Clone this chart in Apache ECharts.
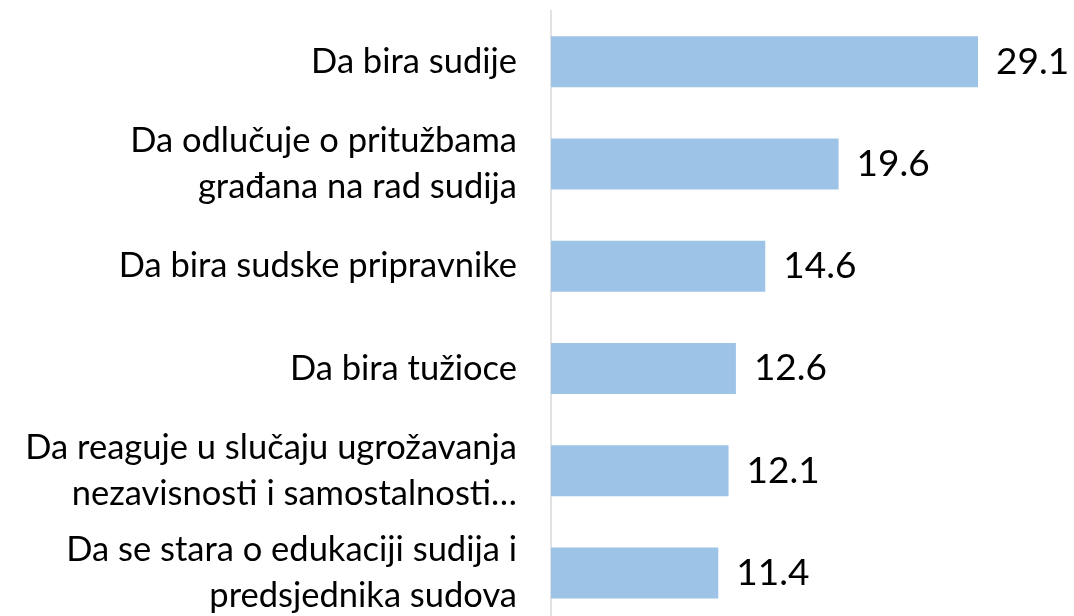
<!DOCTYPE html>
<html>
<head>
<meta charset="utf-8">
<script src="https://cdn.jsdelivr.net/npm/echarts@6/dist/echarts.min.js"></script>
<style>html,body{margin:0;padding:0;background:#fff}#c{width:1074px;height:616px}</style>
</head>
<body>
<div id="c"></div>
<script>
const categories = [
  "Da bira sudije",
  "Da odlučuje o pritužbama\ngrađana na rad sudija",
  "Da bira sudske pripravnike",
  "Da bira tužioce",
  "Da reaguje u slučaju ugrožavanja\nnezavisnosti i samostalnosti…",
  "Da se stara o edukaciji sudija i\npredsjednika sudova"
];
const values = [29.1, 19.6, 14.6, 12.6, 12.1, 11.4];

const chart = echarts.init(document.getElementById('c'), null, {renderer: 'canvas'});
chart.setOption({
  animation: false,
  backgroundColor: '#ffffff',
  grid: {left: 551, top: 10.5, width: 513.6, height: 613.5, containLabel: false, outerBoundsMode: 'none'},
  xAxis: {
    type: 'value', min: 0, max: 35,
    show: false
  },
  yAxis: {
    type: 'category',
    data: categories,
    inverse: true,
    axisLine: {show: true, lineStyle: {color: '#d9d9d9', width: 1.5}},
    axisTick: {show: false},
    axisLabel: {
      margin: 34,
      color: '#000000',
      fontFamily: 'Lato',
      fontSize: 34.5,
      lineHeight: 46,
      align: 'right'
    }
  },
  series: [{
    type: 'bar',
    data: values,
    barWidth: 51,
    itemStyle: {color: '#9dc3e6'},
    label: {
      show: true,
      position: 'right',
      distance: 18,
      color: '#000000',
      fontFamily: 'Lato',
      fontSize: 37,
      formatter: p => p.value.toFixed(1)
    }
  }]
});
</script>
</body>
</html>
